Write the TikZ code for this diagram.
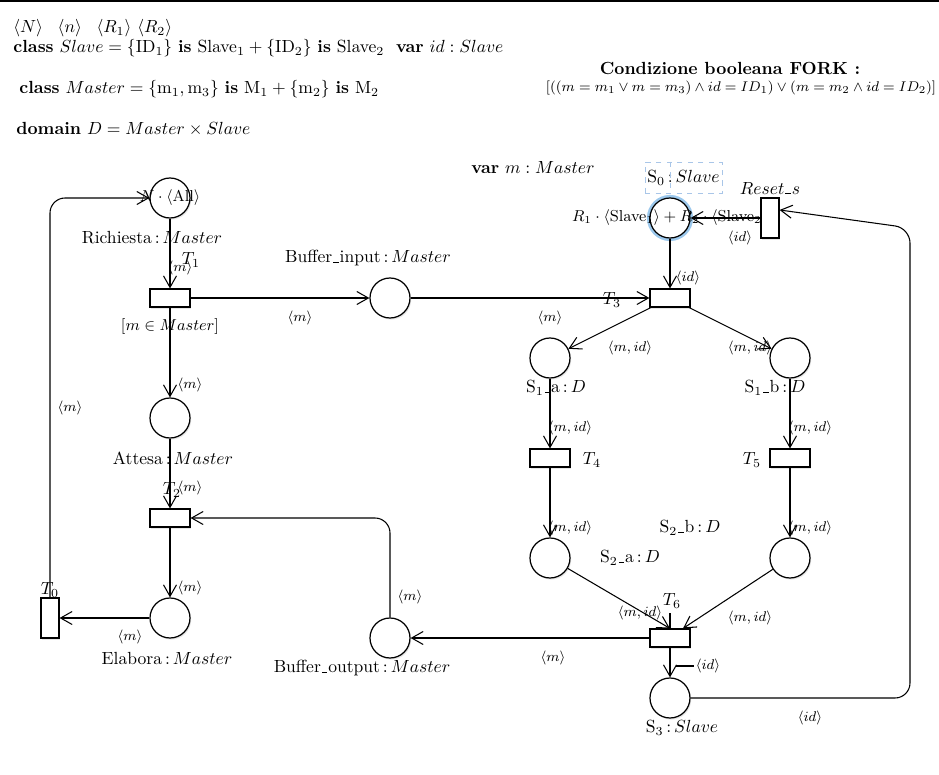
\documentclass[tikz,border=0pt]{standalone}
\usepackage{amsmath,amssymb}
\usetikzlibrary{arrows.meta, shadows}
\definecolor{glowblue}{HTML}{9CC8EC}
\definecolor{selblue}{HTML}{A9C6E8}
\newcommand{\usc}{\leavevmode\kern.06em\vbox{\hrule width.3em}\kern.06em}

\begin{document}
\begin{tikzpicture}[
    place/.style={
        circle,
        draw,
        line width=.7pt,
        minimum size=8mm,
        inner sep=0pt,
        fill=white,
        drop shadow={opacity=.2, shadow xshift=.7pt, shadow yshift=-.9pt}
    },
    transit/.style={
        rectangle,
        draw,
        line width=.65pt,
        minimum width=8mm,
        minimum height=3.6mm,
        inner sep=0pt,
        fill=white,
        drop shadow={opacity=.2, shadow xshift=.7pt, shadow yshift=-.9pt}
    },
    vtransit/.style={
        transit,
        minimum width=3.6mm,
        minimum height=8mm
    },
    flow/.style={
        -{Straight Barb[length=2.3mm, width=2.6mm]},
        line width=.6pt
    },
    lab/.style={font=\footnotesize, inner sep=1pt},
    pname/.style={inner sep=1pt}
]
\useasboundingbox (0,0) rectangle (18.78,-15.5);
\draw[line width=1.3pt] (0,-0.02) -- (18.78,-0.02);

% ------------------------------------------------
% Declarations
% ------------------------------------------------
\node[anchor=west, inner sep=0pt] (decl0) at (0.26,-0.56)
  {$\langle N\rangle$\ \ \,$\langle n\rangle$\ \ \,$\langle R_1\rangle$ $\langle R_2\rangle$};
\node[anchor=west, inner sep=0pt] (decl1) at (0.26,-0.96)
  {\textbf{class} $Slave=\{\mathrm{ID}_1\}$ \textbf{is} $\mathrm{Slave}_1+\{\mathrm{ID}_2\}$ \textbf{is} $\mathrm{Slave}_2$\ \ \textbf{var} $id:Slave$};
\node[anchor=west, inner sep=0pt] (decl2) at (0.38,-1.78)
  {\textbf{class} $Master=\{\mathrm{m}_1,\mathrm{m}_3\}$ \textbf{is} $\mathrm{M}_1+\{\mathrm{m}_2\}$ \textbf{is} $\mathrm{M}_2$};
\node[anchor=west, inner sep=0pt] (decl3) at (0.32,-2.58)
  {\textbf{domain} $D=Master\times Slave$};
\node[font=\bfseries] (fork) at (14.6,-1.36) {Condizione booleana FORK :};
\node[font=\fontsize{8.4pt}{10pt}\selectfont] (cond) at (14.82,-1.76)
  {$[((m=m_1\vee m=m_3)\wedge id=ID_1)\vee(m=m_2\wedge id=ID_2)]$};
\node (varm) at (10.66,-3.36) {\textbf{var} $m:Master$};

% ------------------------------------------------
% Places
% ------------------------------------------------
\node[place] (Rich) at (3.4,-3.96) {};
\node[place] (Bin)  at (7.8,-5.96) {};
\node[place] (Att)  at (3.4,-8.36) {};
\node[place] (Elab) at (3.4,-12.36) {};
\node[place] (Bout) at (7.8,-12.76) {};
\node[place, preaction={draw=glowblue, line width=3.5pt}] (S0) at (13.4,-4.36) {};
\node[place] (S1a)  at (11.0,-7.16) {};
\node[place] (S1b)  at (15.8,-7.16) {};
\node[place] (S2a)  at (11.0,-11.16) {};
\node[place] (S2b)  at (15.8,-11.16) {};
\node[place] (S3)   at (13.4,-13.96) {};

\node[font=\small, inner sep=0pt] (mRich) at (Rich) {$N\cdot\langle\mathrm{All}\rangle$};
\node[font=\small, inner sep=0pt] (mS0) at (S0)
  {$R_1\cdot\langle\mathrm{Slave}_1\rangle+R_2\cdot\langle\mathrm{Slave}_2\rangle$};

\node[pname] (nRich) at (3.04,-4.76) {Richiesta$\,{:}\,Master$};
\node[pname] (nBin)  at (7.36,-5.16) {Buffer\usc input$\,{:}\,Master$};
\node[pname] (nAtt)  at (3.46,-9.16) {Attesa$\,{:}\,Master$};
\node[pname] (nElab) at (3.34,-13.16) {Elabora$\,{:}\,Master$};
\node[pname] (nBout) at (7.24,-13.36) {Buffer\usc output$\,{:}\,Master$};
\node[pname, draw=selblue, dashed, line width=.3pt, minimum width=15.4mm, minimum height=6.2mm] (nS0) at (13.67,-3.55) {S$_0\,{:}\,Slave$};
\draw[draw=selblue, dashed, line width=.3pt] (nS0.north -| S0) -- (nS0.south -| S0);
\node[pname] (nS1a)  at (11.12,-7.76) {S$_1$\usc a$\,{:}\,D$};
\node[pname] (nS1b)  at (15.5,-7.76) {S$_1$\usc b$\,{:}\,D$};
\node[pname] (nS2a)  at (12.6,-11.16) {S$_2$\usc a$\,{:}\,D$};
\node[pname] (nS2b)  at (13.8,-10.56) {S$_2$\usc b$\,{:}\,D$};
\node[pname] (nS3)   at (13.64,-14.56) {S$_3\,{:}\,Slave$};

% ------------------------------------------------
% Transitions
% ------------------------------------------------
\node[transit]  (T1) at (3.4,-5.96) {};
\node[transit]  (T2) at (3.4,-10.36) {};
\node[transit]  (T3) at (13.4,-5.96) {};
\node[transit]  (T4) at (11.0,-9.16) {};
\node[transit]  (T5) at (15.8,-9.16) {};
\node[transit]  (T6) at (13.4,-12.76) {};
\node[vtransit] (T0) at (1.0,-12.36) {};
\node[vtransit] (Reset) at (15.4,-4.36) {};

\node[pname] (nT1) at (3.82,-5.2) {$T_1$};
\node[pname] (nT2) at (3.44,-9.8) {$T_2$};
\node[pname] (nT3) at (12.24,-6.0) {$T_3$};
\node[pname] (nT4) at (11.84,-9.2) {$T_4$};
\node[pname] (nT5) at (15.04,-9.2) {$T_5$};
\node[pname] (nT6) at (13.44,-12.02) {$T_6$};
\node[pname] (nT0) at (1.0,-11.8) {$T_0$};
\node[pname] (nReset) at (15.4,-3.76) {$Reset\usc s$};
\node[font=\small, inner sep=1pt] (guard) at (3.4,-6.54) {$[m\in Master]$};

% ------------------------------------------------
% Arcs
% ------------------------------------------------
\coordinate (turn) at (18.2,-4.56);

\draw[flow, rounded corners=3mm] (T0.north) |- (Rich.west);
\draw[flow] (Rich) -- (T1);
\draw[flow] (T1) -- (Bin);
\draw[flow] (T1) -- (Att);
\draw[flow] (Att) -- (T2);
\draw[flow] (T2) -- (Elab);
\draw[flow] (Elab) -- (T0);
\draw[flow] (Bin) -- (T3.west);
\draw[flow] (S0) -- (T3);
\draw[flow] (T3) -- (S1a);
\draw[flow] (T3) -- (S1b);
\draw[flow] (S1a) -- (T4);
\draw[flow] (S1b) -- (T5);
\draw[flow] (T4) -- (S2a);
\draw[flow] (T5) -- (S2b);
\draw[flow] (S2a) -- (T6.north);
\draw[line width=.6pt] (T6.north) -- ++(0,0.3);
\draw[flow] (S2b) -- ([xshift=2.6mm]T6.north);
\draw[flow] (T6) -- (Bout);
\draw[flow, rounded corners=3mm] (Bout.north) |- (T2.east);
\draw[flow] (T6) -- (S3);
\draw[flow, rounded corners=3mm] (S3.east) -| (turn) -- (Reset.40);
\draw[flow] (Reset) -- (S0);

% ------------------------------------------------
% Arc labels
% ------------------------------------------------
\foreach \n/\x/\y in {lm0/1.4/-8.16, lm1/3.6/-5.36, lm2/6.0/-6.36, lm3/3.8/-7.7,
                      lm4/3.8/-9.76, lm5/3.8/-11.76, lm6/2.6/-12.74, lm7/11.0/-6.36,
                      lm8/11.06/-13.16, lm9/8.2/-11.94}{
  \node[lab] (\n) at (\x,\y) {$\langle m\rangle$};
}
\foreach \n/\x/\y in {lk1/12.6/-6.96, lk2/15.0/-6.96, lk3/11.4/-8.56, lk4/16.2/-8.56,
                      lk5/11.4/-10.56, lk6/16.2/-10.56, lk7/12.8/-12.26, lk8/15.0/-12.36}{
  \node[lab] (\n) at (\x,\y) {$\langle m,id\rangle$};
}
\foreach \n/\x/\y in {li1/13.76/-5.56, li2/14.16/-13.32, li3/16.2/-14.36, li4/14.8/-4.76}{
  \node[lab] (\n) at (\x,\y) {$\langle id\rangle$};
}
\draw[line width=.6pt] (li2.west) -- ++(-0.36,0);

\end{tikzpicture}
\end{document}
